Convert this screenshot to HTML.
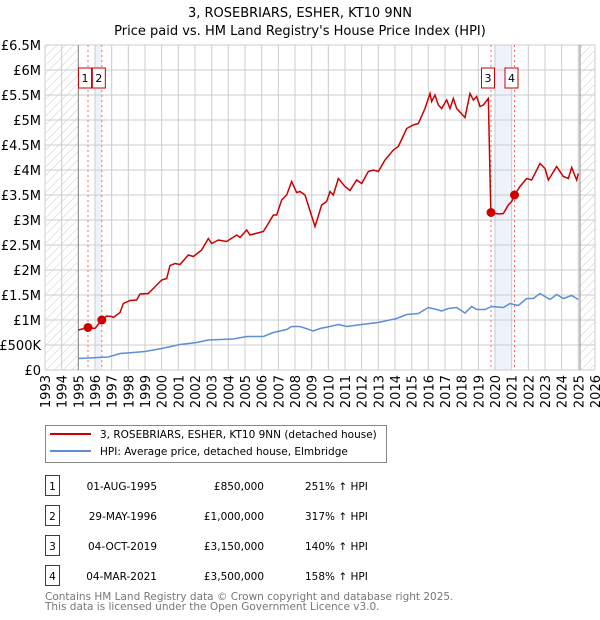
<!DOCTYPE html>
<html><head><meta charset="utf-8"><style>
body{margin:0;background:#fff;font-family:"DejaVu Sans","Liberation Sans",sans-serif;}
svg{display:block}
</style></head><body>
<svg width="600" height="620" xmlns="http://www.w3.org/2000/svg" font-family="DejaVu Sans, Liberation Sans, sans-serif" id="root">
<defs>
<pattern id="hatch" width="6" height="6" patternUnits="userSpaceOnUse" patternTransform="rotate(45)">
<line x1="0" y1="0" x2="0" y2="6" stroke="#ccc" stroke-width="1"/>
</pattern>
</defs>
<text x="300" y="17" text-anchor="middle" font-size="13">3, ROSEBRIARS, ESHER, KT10 9NN</text>
<text x="300" y="35" text-anchor="middle" font-size="13">Price paid vs. HM Land Registry's House Price Index (HPI)</text>
<g id="plot"></g>
<g>
<rect x="45.5" y="425.5" width="341" height="37" fill="#fff" stroke="#888"/>
<line x1="50" y1="434" x2="91" y2="434" stroke="#c00" stroke-width="2"/>
<text x="100" y="438" font-size="10.5">3, ROSEBRIARS, ESHER, KT10 9NN (detached house)</text>
<line x1="50" y1="451" x2="91" y2="451" stroke="#5b8fd6" stroke-width="2"/>
<text x="100" y="455" font-size="10.5">HPI: Average price, detached house, Elmbridge</text>
</g>
<g id="table" font-size="10.5"></g>
<text x="45" y="600" font-size="10.5" fill="#777">Contains HM Land Registry data © Crown copyright and database right 2025.</text>
<text x="45" y="610" font-size="10.5" fill="#777">This data is licensed under the Open Government Licence v3.0.</text>
</svg>
<script>
const redYears=[1995.0,1995.58,1996.0,1996.4,1996.7,1997.0,1997.1,1997.5,1997.7,1998.1,1998.5,1998.7,1999.2,2000.0,2000.3,2000.5,2000.8,2001.1,2001.6,2001.9,2002.4,2002.8,2003.0,2003.4,2003.9,2004.5,2004.7,2005.1,2005.3,2006.1,2006.4,2006.7,2006.9,2007.2,2007.5,2007.8,2008.1,2008.3,2008.6,2009.2,2009.6,2009.9,2010.1,2010.3,2010.6,2011.0,2011.3,2011.7,2012.0,2012.4,2012.7,2013.0,2013.4,2013.9,2014.2,2014.7,2015.1,2015.4,2015.8,2016.1,2016.2,2016.4,2016.6,2016.8,2017.1,2017.3,2017.5,2017.7,2018.2,2018.5,2018.7,2018.9,2019.1,2019.3,2019.6,2019.75,2020.2,2020.5,2020.8,2021.0,2021.17,2021.5,2021.9,2022.2,2022.7,2023.0,2023.2,2023.7,2024.1,2024.4,2024.6,2024.9,2025.0];
const redValues=[0.80,0.85,0.83,1.00,1.08,1.07,1.05,1.15,1.33,1.39,1.40,1.52,1.53,1.80,1.83,2.09,2.13,2.11,2.30,2.27,2.40,2.63,2.53,2.60,2.57,2.70,2.65,2.80,2.70,2.77,2.93,3.10,3.10,3.40,3.50,3.77,3.55,3.57,3.50,2.87,3.30,3.37,3.57,3.50,3.83,3.67,3.59,3.80,3.73,3.97,4.00,3.97,4.20,4.40,4.47,4.83,4.90,4.93,5.23,5.53,5.37,5.50,5.30,5.23,5.40,5.23,5.43,5.23,5.05,5.53,5.40,5.47,5.27,5.30,5.43,3.15,3.12,3.13,3.30,3.37,3.50,3.67,3.83,3.80,4.13,4.03,3.80,4.07,3.87,3.83,4.05,3.80,3.93];
const hpiYears=[1995.0,1996.2,1996.8,1997.5,1999.0,2000.0,2001.1,2002.1,2002.8,2004.3,2005.1,2006.1,2006.7,2007.5,2007.8,2008.3,2009.1,2009.5,2010.1,2010.6,2011.1,2012.0,2013.0,2014.1,2014.7,2015.4,2016.0,2016.5,2016.8,2017.2,2017.7,2018.2,2018.6,2018.9,2019.4,2019.8,2020.5,2020.9,2021.4,2021.9,2022.3,2022.7,2023.3,2023.7,2024.1,2024.6,2025.0];
const hpiValues=[0.23,0.25,0.26,0.33,0.37,0.43,0.51,0.55,0.60,0.62,0.67,0.67,0.75,0.81,0.87,0.87,0.78,0.83,0.87,0.91,0.87,0.91,0.95,1.03,1.11,1.13,1.25,1.21,1.18,1.23,1.25,1.14,1.27,1.21,1.21,1.27,1.25,1.33,1.29,1.43,1.43,1.53,1.41,1.51,1.43,1.49,1.41];
const saleLabels=["1","2","3","4"];
const saleYears=[1995.58,1996.41,2019.76,2021.17];
const saleValues=[0.85,1.0,3.15,3.5];
const saleDates=["01-AUG-1995","29-MAY-1996","04-OCT-2019","04-MAR-2021"];
const salePrices=["£850,000","£1,000,000","£3,150,000","£3,500,000"];
const saleHpi=["251% ↑ HPI","317% ↑ HPI","140% ↑ HPI","158% ↑ HPI"];
const yTicks=[0,0.5,1,1.5,2,2.5,3,3.5,4,4.5,5,5.5,6,6.5];
const yTickLabels=["£0","£500K","£1M","£1.5M","£2M","£2.5M","£3M","£3.5M","£4M","£4.5M","£5M","£5.5M","£6M","£6.5M"];
const xTicks=[1993,1994,1995,1996,1997,1998,1999,2000,2001,2002,2003,2004,2005,2006,2007,2008,2009,2010,2011,2012,2013,2014,2015,2016,2017,2018,2019,2020,2021,2022,2023,2024,2025,2026];

const NS="http://www.w3.org/2000/svg";
const L=45,R=595,T=45,B=370;
const xs=y=>L+(y-1993)*(R-L)/33;
const ys=v=>B-v*(B-T)/6.5;
const plot=document.getElementById('plot');
function mk(tag,attrs,parent){const e=document.createElementNS(NS,tag);for(const k in attrs)e.setAttribute(k,attrs[k]);(parent||plot).appendChild(e);return e;}

let bg=mk('rect',{x:L,y:T,width:R-L,height:B-T,fill:'#fff'});


let h1=mk('rect',{x:L,y:T,width:xs(1995)-L,height:B-T,fill:'url(#hatch)'});


let h2=mk('rect',{x:xs(2025.1),y:T,width:R-xs(2025.1),height:B-T,fill:'url(#hatch)'});


let b1=mk('rect',{x:xs(1996.0),y:T,width:xs(1996.41)-xs(1996.0),height:B-T,fill:'#eef2fb'});


let b2=mk('rect',{x:xs(2019.95),y:T,width:xs(2021.0)-xs(2019.95),height:B-T,fill:'#eef2fb'});



yTicks.forEach((v,i)=>{
  let g=mk('line',{x1:L,x2:R,y1:ys(v),y2:ys(v),stroke:'#ccc','stroke-width':1});
  
  
  let t=mk('text',{x:L-4,y:ys(v)+5,'text-anchor':'end','font-size':13});
  t.textContent=yTickLabels[i];
  
  
});
xTicks.forEach(yr=>{
  let g=mk('line',{x1:xs(yr),x2:xs(yr),y1:T,y2:B,stroke:'#ccc','stroke-width':1});
  
  
  let t=mk('text',{x:0,y:0,'text-anchor':'end','font-size':13,transform:`translate(${xs(yr)+5},${B+5}) rotate(-90)`});
  t.textContent=yr;
  
  
});
let v1=mk('line',{x1:xs(1995),x2:xs(1995),y1:T,y2:B,stroke:'#888','stroke-width':1});


let v2=mk('line',{x1:xs(2025.1),x2:xs(2025.1),y1:T,y2:B,stroke:'#888','stroke-width':1});



saleYears.forEach((yr,i)=>{
  let d=mk('line',{x1:xs(yr),x2:xs(yr),y1:T,y2:B,stroke:'#f66','stroke-width':1,'stroke-dasharray':'2,3'});
  
  
});

let hp=mk('polyline',{points:hpiYears.map((y,i)=>xs(y)+','+ys(hpiValues[i])).join(' '),fill:'none',stroke:'#5b8fd6','stroke-width':1.5});


let rp=mk('polyline',{points:redYears.map((y,i)=>xs(y)+','+ys(redValues[i])).join(' '),fill:'none',stroke:'#c00','stroke-width':1.5});



saleYears.forEach((yr,i)=>{
  let c=mk('circle',{cx:xs(yr),cy:ys(saleValues[i]),r:4.5,fill:'#c00'});
  
  
  const cx=xs(yr)-3;
  let b=mk('rect',{x:cx-6.5,y:68,width:13,height:20,fill:'#fff',stroke:'#c00','stroke-width':1});
  
  
  let t=mk('text',{x:cx,y:82,'text-anchor':'middle','font-size':11});
  t.textContent=saleLabels[i];
  
  
});

const tbl=document.getElementById('table');
saleLabels.forEach((s,i)=>{
  const y=483+i*30;
  let b=mk('rect',{x:45.5,y:y-7.5,width:14,height:20,fill:'#fff',stroke:'#c00'},tbl);
  
  
  let t=mk('text',{x:52.5,y:y+7,'text-anchor':'middle'},tbl);t.textContent=s;
  
  
  let d=mk('text',{x:157,y:y+7,'text-anchor':'end'},tbl);d.textContent=saleDates[i];
  
  
  let p=mk('text',{x:264,y:y+7,'text-anchor':'end'},tbl);p.textContent=salePrices[i];
  
  
  let h=mk('text',{x:305,y:y+7},tbl);h.textContent=saleHpi[i];
  
  
});
</script>
</body></html>
